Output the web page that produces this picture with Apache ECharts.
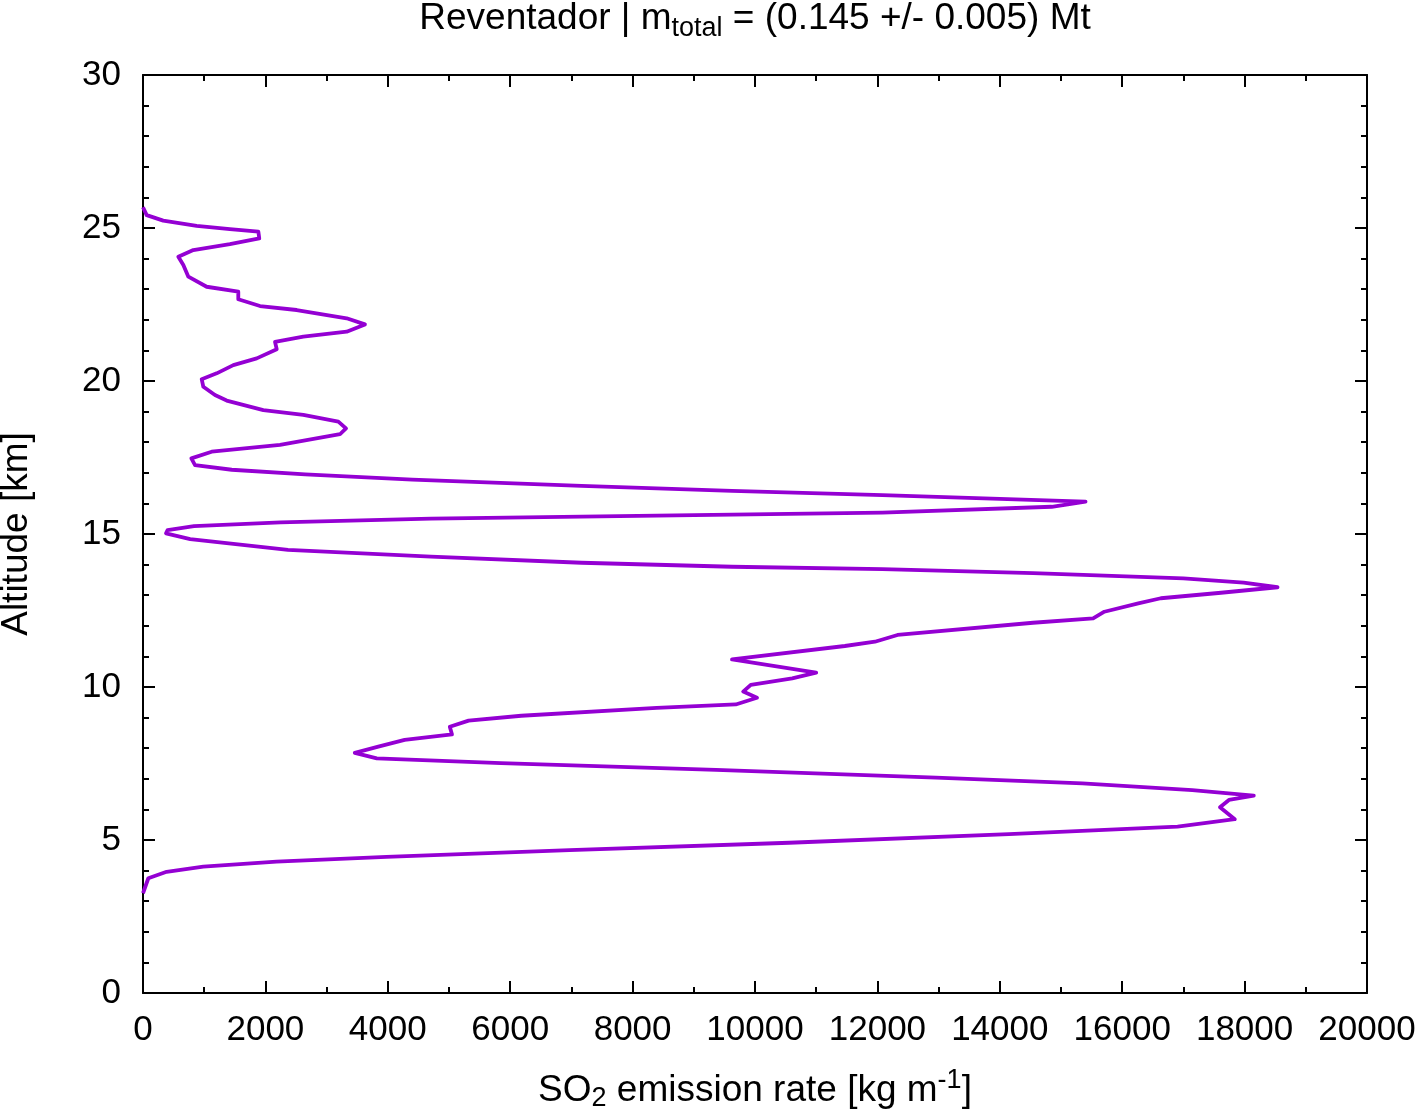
<!DOCTYPE html>
<html>
<head>
<meta charset="utf-8">
<script src="https://cdn.jsdelivr.net/npm/echarts@6/dist/echarts.min.js"></script>
<style>
html,body{margin:0;padding:0;background:#fff;}
#chart{width:1424px;height:1111px;}
</style>
</head>
<body>
<div id="chart"></div>
<script>
// Altitude [km] (top to bottom, following the profile)
const altitude = [25.68, 25.42, 25.24, 25.07, 24.96, 24.88, 24.66, 24.47, 24.28, 24.06,
  23.79, 23.41, 23.08, 22.92, 22.67, 22.45, 22.32, 22.05, 21.85, 21.61,
  21.45, 21.28, 21.04, 20.74, 20.52, 20.25, 20.06, 19.81, 19.54, 19.36,
  19.05, 18.89, 18.67, 18.45, 18.26, 17.91, 17.69, 17.47, 17.25, 17.10,
  16.95, 16.78, 16.57, 16.41, 16.27, 16.15, 16.06, 15.89, 15.70, 15.60,
  15.50, 15.38, 15.26, 15.13, 15.02, 14.83, 14.48, 14.26, 14.06, 13.93,
  13.85, 13.72, 13.55, 13.41, 13.26, 13.08, 12.90, 12.73, 12.46, 12.24,
  12.10, 11.70, 11.48, 11.34, 10.90, 10.47, 10.28, 10.07, 9.85, 9.65,
  9.43, 9.32, 9.06, 8.90, 8.70, 8.45, 8.27, 8.05, 7.85, 7.67,
  7.51, 7.29, 7.04, 6.85, 6.63, 6.45, 6.31, 6.07, 5.68, 5.44,
  5.19, 4.91, 4.67, 4.45, 4.29, 4.13, 3.96, 3.75, 3.26];
// SO2 emission rate [kg m^-1]
const emission = [0, 60, 330, 877, 1420, 1885, 1900, 1420, 822, 577,
  659, 741, 1040, 1557, 1557, 1912, 2511, 3328, 3627, 3328,
  2620, 2157, 2185, 1858, 1476, 1204, 959, 986, 1176, 1367,
  1966, 2620, 3192, 3317, 3219, 2239, 1122, 790, 850, 1450,
  2650, 4400, 7165, 9624, 12082, 14000, 15401, 14848, 12082, 8394,
  4706, 2247, 833, 402, 376, 771, 2369, 4706, 7165, 9624,
  12082, 14543, 17000, 17984, 18538, 17615, 16631, 16263, 15709, 15525,
  14543, 12329, 11960, 11468, 9624, 11000, 10608, 9931, 9807, 10033,
  9685, 8394, 6181, 5320, 5013, 5049, 4275, 3845, 3460, 3820,
  5850, 9363, 12956, 15350, 17145, 18150, 17744, 17598, 17840, 16905,
  14150, 10560, 6970, 3977, 2181, 985, 386, 87, 0];

const xTicks = {min: 0, max: 20000, interval: 2000};
const yTicks = {min: 0, max: 30, interval: 5};

const FONT = 'Liberation Sans, Arial, Helvetica, sans-serif';
const FS = 35;   // tick labels
const FL = 37;   // title and axis names
const FSUB = 27; // sub/superscripts

const points = emission.map((v, i) => [v, altitude[i]]);

const chart = echarts.init(document.getElementById('chart'), null, {renderer: 'canvas'});

const lineBlack = {color: '#000', width: 2};

const option = {
  backgroundColor: '#fff',
  animation: false,
  graphic: [{
    type: 'text',
    x: 755, y: -5,
    style: {
      text: '{a|Reventador | m}{s|total}{a| = (0.145 +/- 0.005) Mt}',
      align: 'center', verticalAlign: 'top',
      rich: {
        a: {fontFamily: FONT, fontSize: FL, fill: '#000', color: '#000', lineHeight: 46},
        s: {fontFamily: FONT, fontSize: FSUB, fill: '#000', color: '#000', padding: [20, 0, 0, 0]}
      }
    }
  }],
  grid: {left: 143, right: 57, top: 75, bottom: 118, containLabel: false, outerBoundsMode: 'none'},
  xAxis: [
    {
      type: 'value', position: 'bottom',
      min: xTicks.min, max: xTicks.max, interval: xTicks.interval,
      axisLine: {show: true, onZero: false, lineStyle: lineBlack},
      axisTick: {show: true, inside: true, length: 12, lineStyle: lineBlack},
      minorTick: {show: true, splitNumber: 2, length: 6, lineStyle: lineBlack},
      splitLine: {show: false},
      axisLabel: {show: true, color: '#000', fontFamily: FONT, fontSize: FS, margin: 20,
        formatter: v => String(v)},
      name: '{a|SO}{s|2}{a| emission rate [kg m}{p|-1}{a|]}',
      nameLocation: 'middle', nameGap: 74,
      nameTextStyle: {
        rich: {
          a: {fontFamily: FONT, fontSize: FL, color: '#000', lineHeight: 46},
          s: {fontFamily: FONT, fontSize: FSUB, color: '#000', padding: [16, 0, 0, 0]},
          p: {fontFamily: FONT, fontSize: FSUB, color: '#000', padding: [0, 0, 20, 0]}
        }
      }
    },
    {
      type: 'value', position: 'top',
      min: xTicks.min, max: xTicks.max, interval: xTicks.interval,
      axisLine: {show: true, onZero: false, lineStyle: lineBlack},
      axisTick: {show: true, inside: true, length: 12, lineStyle: lineBlack},
      minorTick: {show: true, splitNumber: 2, length: 6, lineStyle: lineBlack},
      splitLine: {show: false},
      axisLabel: {show: false}
    }
  ],
  yAxis: [
    {
      type: 'value', position: 'left',
      min: yTicks.min, max: yTicks.max, interval: yTicks.interval,
      axisLine: {show: true, onZero: false, lineStyle: lineBlack},
      axisTick: {show: true, inside: true, length: 12, lineStyle: lineBlack},
      minorTick: {show: true, splitNumber: 5, length: 6, lineStyle: lineBlack},
      splitLine: {show: false},
      axisLabel: {show: true, color: '#000', fontFamily: FONT, fontSize: FS, margin: 22,
        formatter: v => String(v)},
      name: 'Altitude [km]',
      nameLocation: 'middle', nameGap: 108, nameRotate: 90,
      nameTextStyle: {fontFamily: FONT, fontSize: FL, color: '#000'}
    },
    {
      type: 'value', position: 'right',
      min: yTicks.min, max: yTicks.max, interval: yTicks.interval,
      axisLine: {show: true, onZero: false, lineStyle: lineBlack},
      axisTick: {show: true, inside: true, length: 12, lineStyle: lineBlack},
      minorTick: {show: true, splitNumber: 5, length: 6, lineStyle: lineBlack},
      splitLine: {show: false},
      axisLabel: {show: false}
    }
  ],
  series: [{
    type: 'line',
    xAxisIndex: 0, yAxisIndex: 0,
    data: points,
    showSymbol: false,
    symbol: 'none',
    smooth: false,
    clip: true,
    lineStyle: {color: '#9400D3', width: 3.8, join: 'round'}
  }]
};

chart.setOption(option);
</script>
</body>
</html>
